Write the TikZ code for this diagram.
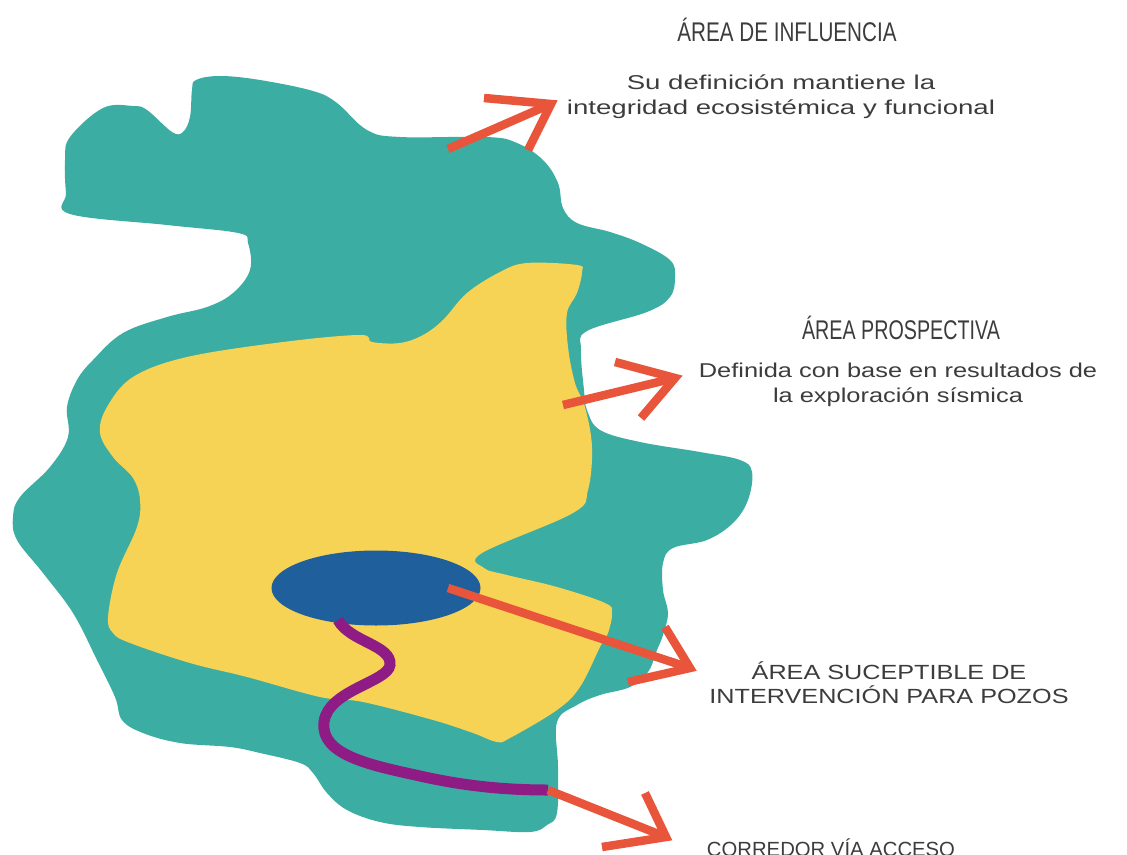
\documentclass[tikz,border=0pt]{standalone}
\usepackage{fontspec}
\usetikzlibrary{shapes.geometric}
\setmainfont{Liberation Sans}
\newfontfamily\titleAfont[FakeStretch=0.765]{Liberation Sans}
\newfontfamily\titleBfont[FakeStretch=0.73]{Liberation Sans}
\newfontfamily\bodyAfont[FakeStretch=1.38]{Liberation Sans}
\newfontfamily\bodyBfont[FakeStretch=1.27]{Liberation Sans}
\newfontfamily\capsAfont[FakeStretch=1.23]{Liberation Sans}
\newfontfamily\capsBfont[FakeStretch=0.99]{Liberation Sans}
\definecolor{tealarea}{HTML}{3BADA2}
\definecolor{yellowarea}{HTML}{F6D255}
\definecolor{bluearea}{HTML}{1F5F9C}
\definecolor{roadpurple}{HTML}{8E1C84}
\definecolor{arrowred}{HTML}{E9553A}
\definecolor{labelgray}{HTML}{3C3C3C}
\tikzset{
  x=1pt,y=-1pt,
  pointer/.style={draw=arrowred,line width=8.5pt},
  road/.style={draw=roadpurple,line width=11pt},
  textlabel/.style={text=labelgray,align=center,inner sep=0pt},
  titlesize/.style={textlabel,font=#1\fontsize{27}{30}\selectfont},
  bodysize/.style={textlabel,font=#1\fontsize{20}{25}\selectfont},
  capssize/.style={textlabel,font=#1\fontsize{20.5}{24}\selectfont},
}
\begin{document}
\begin{tikzpicture}
\useasboundingbox (0,0) rectangle (1127,854);
\clip (0,0) rectangle (1127,854);
% influence area
\fill[tealarea] plot[smooth cycle,tension=0.62] coordinates {
 (196,80)(220,76)(260,80)(313,91)(337,103)(367,130)(400,137)(487,137)(517,143)(543,160)
 (558,183)(563,208)(577,223)(610,232)(640,243)(670,260)(675,277)(670,297)(647,312)(587,331)
 (581,350)(584,390)(587,410)(600,430)(640,442)(700,452)(740,460)(752,472)(748,500)(733,523)
 (707,540)(673,548)(663,563)(663,590)(668,613)(663,635)(657,650)(648,672)(630,687)(600,695)
 (577,705)(557,722)(558,767)(557,813)(547,825)(530,832)(483,830)(420,827)(380,822)(347,810)
 (327,793)(313,773)(300,763)(260,753)(230,747)(180,743)(143,733)(122,720)(115,697)(97,660)
 (73,613)(43,573)(17,540)(13,517)(20,497)(50,467)(68,437)(67,407)(77,380)(93,360)
 (123,333)(167,317)(207,307)(233,293)(250,270)(248,243)(238,233)(167,225)(70,214)(66,193)
 (65,160)(70,137)(103,108)(133,106)(147,110)(172,132)(183,132)(190,117)(192,90)
};
% prospective area
\fill[yellowarea] plot[smooth cycle,tension=0.6] coordinates {
 (577,265)(582,272)(577,293)(567,313)(568,347)(575,383)(585,407)(592,447)(588,490)(573,513)
 (482,553)(484,568)(507,575)(557,587)(605,603)(612,613)(608,633)(600,647)(580,687)(557,710)
 (510,738)(497,742)(473,733)(433,720)(363,702)(320,697)(247,677)(190,663)(130,643)(113,633)
 (108,617)(117,573)(137,527)(140,500)(133,478)(113,457)(100,433)(107,407)(133,377)(187,357)
 (283,342)(360,335)(372,342)(400,343)(423,335)(443,320)(467,293)(500,272)(527,263)
};
% well area
\node[ellipse,fill=bluearea,minimum width=209pt,minimum height=75pt,inner sep=0pt] (wells) at (376,588) {};
% access road
\coordinate (roadstart) at (338,620);
\coordinate (roadend) at (548,790);
\draw[road] (roadstart) .. controls (350,642) and (392,645) .. (390,665)
  .. controls (388,682) and (328,690) .. (324,722)
  .. controls (320,755) and (370,765) .. (420,776)
  .. controls (460,785) and (500,790) .. (roadend);
% arrows
\coordinate (a1s) at (448,149); \coordinate (a1t) at (551,104);
\coordinate (a1u) at (484,98); \coordinate (a1d) at (528,150);
\coordinate (a2s) at (563,405); \coordinate (a2t) at (675,378);
\coordinate (a2u) at (615,362); \coordinate (a2d) at (641,418);
\coordinate (a3s) at (448,588); \coordinate (a3t) at (690,668);
\coordinate (a3u) at (665,627); \coordinate (a3d) at (628,682);
\coordinate (a4t) at (666,837);
\coordinate (a4u) at (645,793); \coordinate (a4d) at (602,847);
\draw[pointer] (a1s) -- (a1t);
\draw[pointer] (a1u) -- (a1t) -- (a1d);
\draw[pointer] (a2s) -- (a2t);
\draw[pointer] (a2u) -- (a2t) -- (a2d);
\draw[pointer] (a3s) -- (a3t);
\draw[pointer] (a3u) -- (a3t) -- (a3d);
\draw[pointer] (roadend) -- (a4t);
\draw[pointer] (a4u) -- (a4t) -- (a4d);
% labels
\node[titlesize=\titleAfont] (t1) at (787,30) {ÁREA DE INFLUENCIA};
\node[bodysize=\bodyAfont] (b1) at (781,97) {Su definición mantiene la\\integridad ecosistémica y funcional};
\node[titlesize=\titleBfont] (t2) at (901,328) {ÁREA PROSPECTIVA};
\node[bodysize=\bodyBfont] (b2) at (898,385) {Definida con base en resultados de\\la exploración sísmica};
\node[capssize=\capsAfont] (t3) at (889,683) {ÁREA SUCEPTIBLE DE\\INTERVENCIÓN PARA POZOS};
\node[capssize=\capsBfont] (t4) at (831,848) {CORREDOR VÍA ACCESO};
\end{tikzpicture}
\end{document}
